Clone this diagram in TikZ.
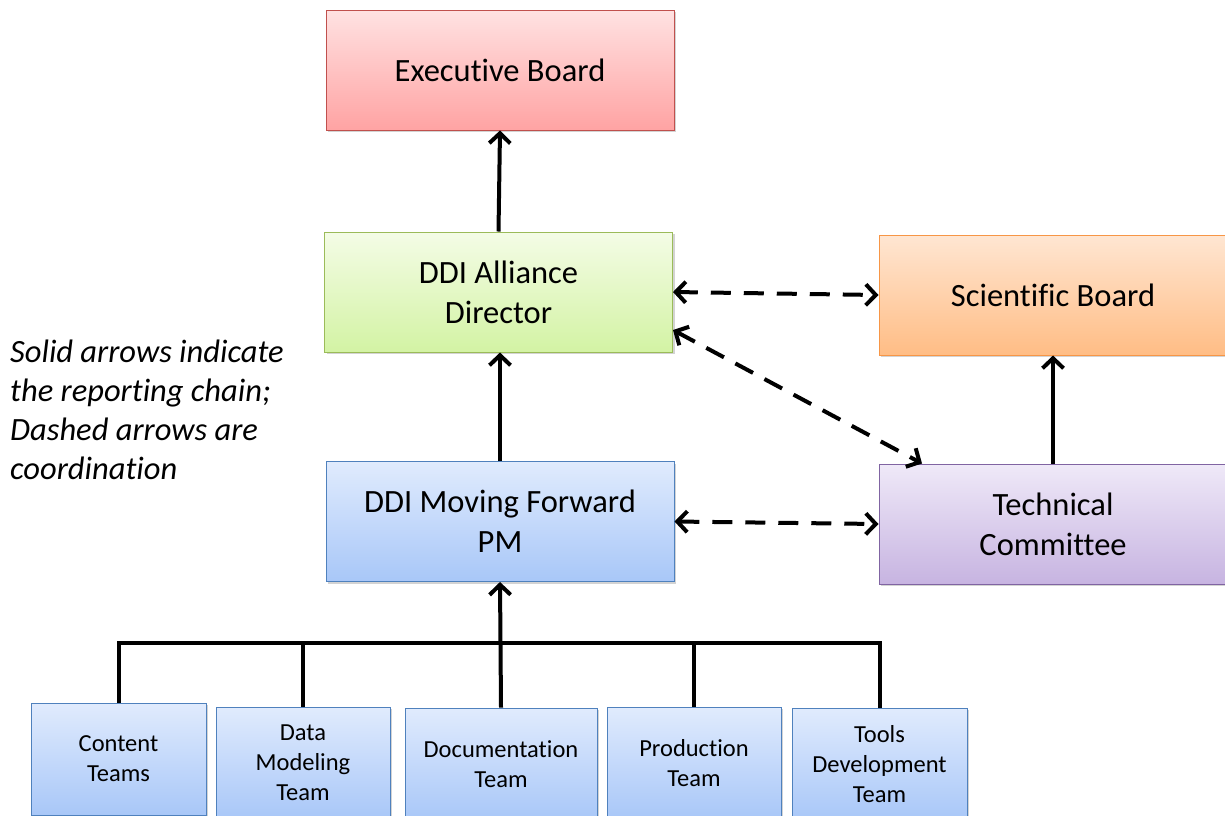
\documentclass[tikz,border=0pt]{standalone}
\usepackage{fontspec}
\setmainfont{Carlito}[Ligatures=NoCommon]
\usetikzlibrary{arrows.meta}
\usetikzlibrary{shadows}

\definecolor{redtop}{HTML}{FFE2E2}
\definecolor{redbot}{HTML}{FFA3A3}
\definecolor{redline}{HTML}{C0504D}
\definecolor{greentop}{HTML}{F4FCE6}
\definecolor{greenbot}{HTML}{D3F3A4}
\definecolor{greenline}{HTML}{9BBB59}
\definecolor{orangetop}{HTML}{FFE6D2}
\definecolor{orangebot}{HTML}{FFBD85}
\definecolor{orangeline}{HTML}{F79646}
\definecolor{bluetop}{HTML}{E0EBFD}
\definecolor{bluebot}{HTML}{A8C7F8}
\definecolor{blueline}{HTML}{4F81BD}
\definecolor{purpletop}{HTML}{EFE9F8}
\definecolor{purplebot}{HTML}{C7B4E1}
\definecolor{purpleline}{HTML}{8064A2}

\begin{document}
\begin{tikzpicture}[
            x=1pt, y=-1pt,
            board node/.style={rectangle, draw, line width=1pt, inner sep=0pt,
                minimum width=348pt, minimum height=120pt, align=center,
                font=\fontsize{32.5}{40}\selectfont,
                drop shadow={shadow xshift=2pt, shadow yshift=-2pt, opacity=0.35}},
            team node/.style={board node, minimum height=112pt,
                font=\fontsize{24.5}{30}\selectfont,
                top color=bluetop, bottom color=bluebot, draw=blueline},
            solid arrow/.style={line width=4pt, -{Straight Barb[length=10pt,width=21pt]}},
            coord arrow/.style={line width=4pt, dash pattern=on 20pt off 13pt,
                {Straight Barb[length=10pt,width=21pt]}-{Straight Barb[length=10pt,width=21pt]}},
            bus line/.style={line width=4pt},
            ]
            \useasboundingbox (0,0) rectangle (1225,815);

            \node[board node, top color=redtop, bottom color=redbot, draw=redline] (exec) at (500,70) {Executive Board};
            \node[board node, top color=greentop, bottom color=greenbot, draw=greenline] (dir) at (498.5,292) {DDI Alliance\\Director};
            \node[board node, top color=orangetop, bottom color=orangebot, draw=orangeline] (sci) at (1053,295) {Scientific Board};
            \node[board node, top color=bluetop, bottom color=bluebot, draw=blueline] (pm) at (500,521.5) {DDI Moving Forward\\PM};
            \node[board node, top color=purpletop, bottom color=purplebot, draw=purpleline] (tech) at (1053,524) {Technical\\Committee};

            \node[team node, minimum width=175pt] (content) at (118.5,759) {Content\\Teams};
            \node[team node, minimum width=174pt] (data) at (303,763) {Data\\Modeling\\Team};
            \node[team node, minimum width=192pt] (doc) at (501,764) {Documentation\\Team};
            \node[team node, minimum width=174pt] (prod) at (694,763) {Production\\Team};
            \node[team node, minimum width=175pt] (tools) at (879.5,764) {Tools\\Development\\Team};

            \node[anchor=north west, align=left, inner sep=0pt,
                font=\fontsize{32.5}{39}\selectfont\itshape] (note) at (10,340)
                {Solid arrows indicate\\the reporting chain;\\Dashed arrows are\\coordination};

            % reporting chain
            \coordinate (bus) at (500,643);
            \draw[bus line] (content.north) |- (bus) -| (tools.north);
            \draw[bus line] (data.north) -- (data.north |- bus);
            \draw[bus line] (prod.north) -- (prod.north |- bus);
            \draw[solid arrow] (doc.north) -- (pm.south);
            \draw[solid arrow] (pm.north) -- (pm.north |- dir.south);
            \draw[solid arrow] (dir.north) -- (exec.south);
            \draw[solid arrow] (tech.north) -- (sci.south);

            % coordination
            \draw[coord arrow] (dir.east) -- (sci.west);
            \draw[coord arrow] (pm.east) -- (tech.west);
            \draw[coord arrow] ([yshift=-38pt]dir.east) -- ([xshift=-131pt]tech.north);
        \end{tikzpicture}
\end{document}
